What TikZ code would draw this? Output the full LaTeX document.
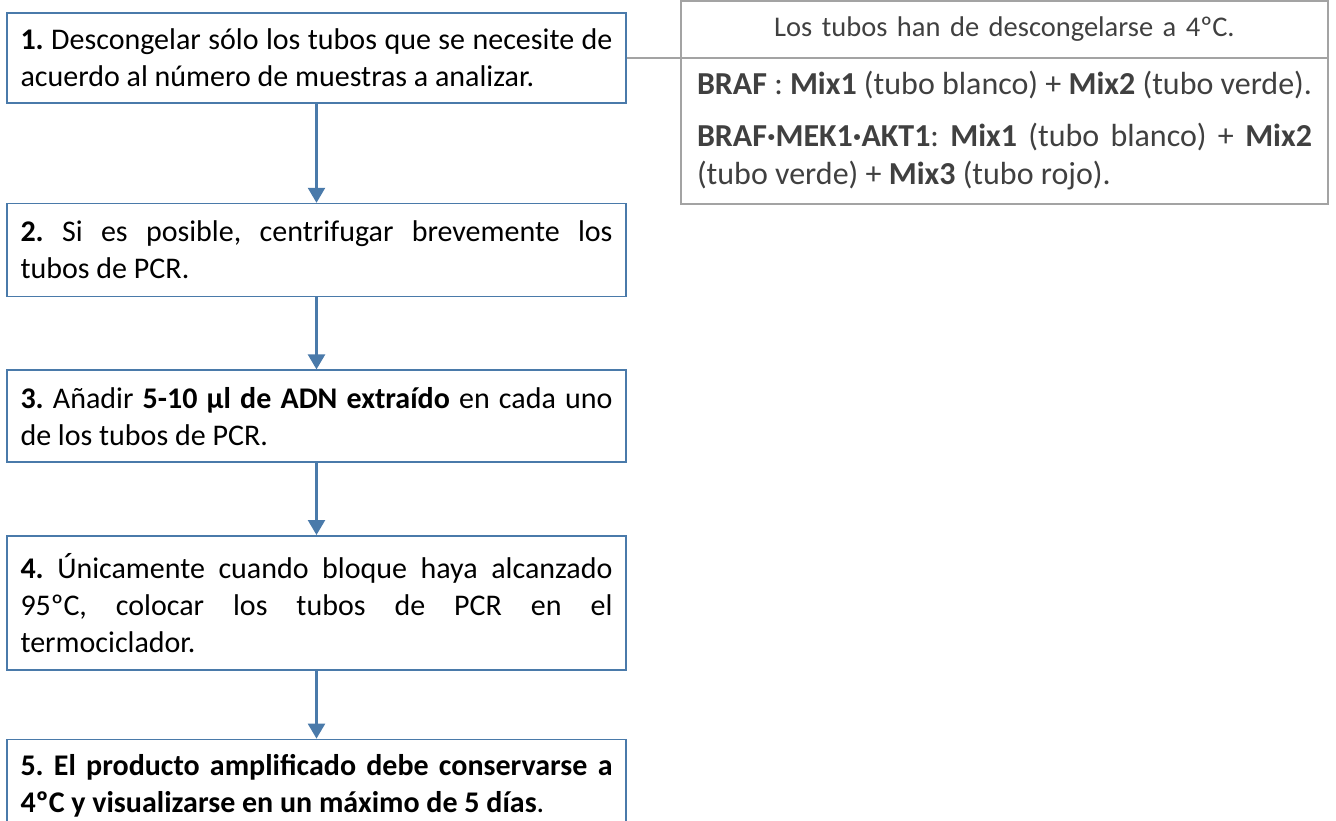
\documentclass[tikz,border=0pt]{standalone}
\usepackage{fontspec}
\setmainfont{Carlito}
\usepackage{xcolor}
\usetikzlibrary{arrows.meta,positioning}
\definecolor{boxblue}{HTML}{4A7AAA}
\definecolor{notegray}{HTML}{A3A3A3}
\definecolor{notetext}{HTML}{404040}
\frenchspacing
\hyphenpenalty=10000
\exhyphenpenalty=10000

\begin{document}
\begin{tikzpicture}[x=1pt, y=1pt, font=\fontsize{30}{37}\selectfont,
  stepbox/.style={draw=boxblue, line width=1.6pt, text width=592pt, inner xsep=13.5pt, inner ysep=3pt, align=justify},
  notebox/.style={draw=notegray, line width=1.4pt, text=notetext, text width=615pt, inner xsep=16pt, inner ysep=3pt, outer sep=0pt},
  flowarrow/.style={draw=boxblue, line width=2.4pt, -{Triangle[width=17pt,length=15pt]}}]
\useasboundingbox (0,0) rectangle (1336,-820);
% steps
\node[stepbox, minimum height=90pt] (s1) at (316.5,-58)
  {\textbf{1.} Descongelar sólo los tubos que se necesite de acuerdo al número de muestras a analizar.};
\node[stepbox, minimum height=93pt, below=99pt of s1] (s2)
  {\textbf{2.} Si es posible, centrifugar brevemente los\linebreak tubos de PCR.};
\node[stepbox, minimum height=92pt, below=72pt of s2] (s3)
  {\textbf{3.} Añadir \textbf{5-10 µl de ADN extraído} en cada uno\linebreak de los tubos de PCR.};
\node[stepbox, minimum height=134pt, below=72pt of s3] (s4)
  {\textbf{4.} Únicamente cuando bloque haya alcanzado 95ºC, colocar los tubos de PCR en el\linebreak termociclador.};
\node[stepbox, minimum height=92pt, below=68pt of s4] (s5)
  {\textbf{5. El producto amplificado debe conservarse a 4ºC y visualizarse en un máximo de 5 días}.};
% note table
\node[notebox, align=center, minimum height=57pt, anchor=north west, font=\fontsize{28.5}{35}\selectfont] (head) at (681,-1)
  {Los tubos han de descongelarse a 4ºC.};
\node[notebox, align=justify, minimum height=146pt, below=0pt of head, font=\fontsize{32}{38}\selectfont] (body)
  {\textbf{BRAF} : \textbf{Mix1} (tubo blanco) + \textbf{Mix2} (tubo verde).\par\vspace{14pt}
   \textbf{BRAF·MEK1·AKT1}: \textbf{Mix1} (tubo blanco) + \textbf{Mix2} (tubo verde) + \textbf{Mix3} (tubo rojo).};
% connectors
\draw[draw=notegray, line width=1.4pt] (s1.east) -- (head.south west);
\foreach \a/\b in {s1/s2, s2/s3, s3/s4, s4/s5}
  \draw[flowarrow] (\a) -- (\b);
\end{tikzpicture}
\end{document}
